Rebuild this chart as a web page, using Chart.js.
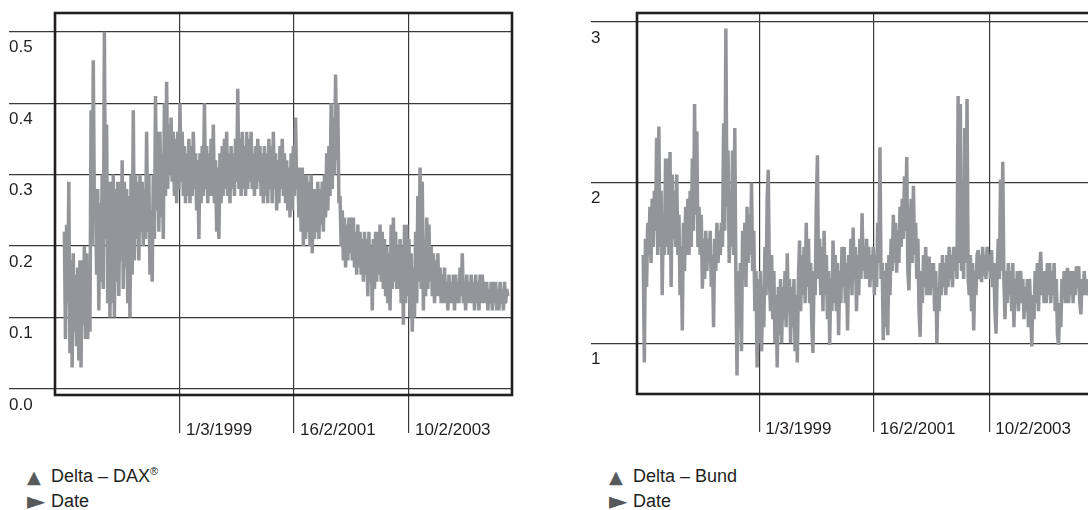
<!DOCTYPE html>
<html>
<head>
<meta charset="utf-8">
<script src="https://cdn.jsdelivr.net/npm/chart.js@4.4.0/dist/chart.umd.min.js"></script>
<style>
  html, body { margin: 0; padding: 0; background: #fff; overflow: hidden; width: 1088px; height: 510px; }
  canvas { position: absolute; top: 0; }
  .legend { position: absolute; top: 464px; font: 18px 'Liberation Sans', Arial, sans-serif; color: #231f20; line-height: 25px; white-space: nowrap; }
  .legend div { height: 25px; }
  .mk { display: inline-block; width: 24px; line-height: 25px; vertical-align: top; font-family: 'DejaVu Sans', sans-serif; color: #58595b; }
  .up { font-size: 18px; }
  .right { font-size: 24px; }
  .reg { font-size: 11px; position: relative; top: -7px; }
</style>
</head>
<body>
<canvas id="daxChart" width="540" height="460" style="left:0"></canvas>
<canvas id="bundChart" width="540" height="460" style="left:582px"></canvas>
<div class="legend" style="left:27px">
  <div><span class="mk up">▲</span>Delta – DAX<span class="reg">®</span></div>
  <div><span class="mk right">►</span>Date</div>
</div>
<div class="legend" style="left:609px">
  <div><span class="mk up">▲</span>Delta – Bund</div>
  <div><span class="mk right">►</span>Date</div>
</div>
<script>
// serie - jeden punkt co 7 dni
const seriesStart = '1997-03-03';
const stepDays = 7;

const deltaDax = [
  0.22, 0.07, 0.23, 0.12, 0.29, 0.05, 0.18, 0.03, 0.19, 0.08, 0.16, 0.06, 0.17, 0.04, 0.18, 0.03, 0.18, 0.09, 0.20, 0.07,
  0.19, 0.07, 0.17, 0.08, 0.39, 0.20, 0.46, 0.25, 0.27, 0.16, 0.28, 0.11, 0.26, 0.15, 0.30, 0.14, 0.50, 0.21, 0.37, 0.12,
  0.29, 0.10, 0.29, 0.12, 0.30, 0.10, 0.28, 0.15, 0.29, 0.13, 0.29, 0.18, 0.32, 0.14, 0.29, 0.17, 0.28, 0.12, 0.27, 0.10,
  0.30, 0.16, 0.39, 0.18, 0.30, 0.21, 0.29, 0.18, 0.30, 0.22, 0.29, 0.20, 0.28, 0.21, 0.36, 0.22, 0.30, 0.16, 0.25, 0.15,
  0.30, 0.21, 0.41, 0.25, 0.36, 0.22, 0.36, 0.24, 0.33, 0.21, 0.40, 0.27, 0.43, 0.28, 0.37, 0.30, 0.38, 0.29, 0.36, 0.27,
  0.35, 0.26, 0.36, 0.28, 0.40, 0.29, 0.36, 0.27, 0.34, 0.26, 0.33, 0.27, 0.35, 0.26, 0.34, 0.27, 0.36, 0.28, 0.33, 0.25,
  0.32, 0.21, 0.33, 0.26, 0.34, 0.27, 0.40, 0.28, 0.34, 0.26, 0.33, 0.27, 0.35, 0.27, 0.37, 0.26, 0.32, 0.22, 0.31, 0.21,
  0.33, 0.26, 0.34, 0.27, 0.35, 0.28, 0.36, 0.27, 0.33, 0.26, 0.34, 0.28, 0.33, 0.27, 0.35, 0.29, 0.42, 0.28, 0.35, 0.27,
  0.36, 0.28, 0.34, 0.27, 0.36, 0.28, 0.35, 0.29, 0.36, 0.28, 0.33, 0.27, 0.34, 0.28, 0.35, 0.29, 0.34, 0.27, 0.33, 0.26,
  0.34, 0.27, 0.33, 0.26, 0.35, 0.28, 0.34, 0.26, 0.36, 0.28, 0.33, 0.25, 0.32, 0.26, 0.34, 0.28, 0.35, 0.27, 0.33, 0.26,
  0.32, 0.25, 0.31, 0.24, 0.33, 0.25, 0.34, 0.27, 0.38, 0.28, 0.31, 0.24, 0.31, 0.22, 0.31, 0.20, 0.30, 0.21, 0.30, 0.22,
  0.29, 0.20, 0.30, 0.19, 0.28, 0.21, 0.28, 0.22, 0.29, 0.21, 0.28, 0.23, 0.29, 0.22, 0.30, 0.24, 0.33, 0.25, 0.34, 0.27,
  0.40, 0.28, 0.38, 0.30, 0.44, 0.32, 0.40, 0.26, 0.27, 0.20, 0.25, 0.18, 0.24, 0.17, 0.23, 0.18, 0.24, 0.19, 0.24, 0.18,
  0.24, 0.17, 0.22, 0.16, 0.23, 0.17, 0.22, 0.16, 0.21, 0.15, 0.22, 0.16, 0.21, 0.13, 0.22, 0.15, 0.20, 0.11, 0.21, 0.14,
  0.22, 0.15, 0.22, 0.16, 0.23, 0.15, 0.22, 0.14, 0.21, 0.13, 0.20, 0.12, 0.19, 0.11, 0.23, 0.14, 0.24, 0.15, 0.22, 0.14,
  0.20, 0.14, 0.21, 0.12, 0.20, 0.09, 0.23, 0.12, 0.23, 0.13, 0.21, 0.10, 0.19, 0.08, 0.17, 0.10, 0.22, 0.12, 0.27, 0.15,
  0.31, 0.14, 0.29, 0.11, 0.21, 0.13, 0.24, 0.14, 0.23, 0.15, 0.20, 0.13, 0.19, 0.12, 0.18, 0.13, 0.19, 0.13, 0.17, 0.12,
  0.16, 0.12, 0.17, 0.12, 0.15, 0.11, 0.16, 0.12, 0.15, 0.12, 0.16, 0.11, 0.16, 0.12, 0.15, 0.12, 0.17, 0.13, 0.19, 0.12,
  0.15, 0.11, 0.16, 0.12, 0.15, 0.12, 0.16, 0.12, 0.15, 0.11, 0.16, 0.12, 0.15, 0.11, 0.16, 0.12, 0.16, 0.12, 0.15, 0.12,
  0.15, 0.11, 0.14, 0.12, 0.15, 0.11, 0.15, 0.12, 0.15, 0.11, 0.14, 0.11, 0.15, 0.12, 0.14, 0.11, 0.15, 0.12, 0.14, 0.13
];

const deltaBund = [
  1.55, 0.88, 1.65, 1.35, 1.75, 1.55, 1.85, 1.50, 1.90, 1.60, 1.95, 1.70, 2.28, 1.55, 2.35, 1.60, 1.95, 1.30, 1.80, 1.55,
  2.15, 1.60, 2.15, 1.55, 2.19, 1.35, 2.05, 1.65, 1.95, 1.60, 2.05, 1.55, 1.80, 1.30, 1.60, 1.08, 1.75, 1.45, 1.85, 1.55,
  1.90, 1.55, 1.95, 1.60, 2.15, 1.70, 2.49, 1.80, 2.32, 1.60, 1.85, 1.55, 1.80, 1.34, 1.65, 1.40, 1.70, 1.45, 1.65, 1.50,
  1.70, 1.35, 1.55, 1.10, 1.65, 1.45, 1.75, 1.50, 1.70, 1.55, 1.75, 1.60, 2.37, 1.70, 2.96, 1.85, 2.20, 1.50, 1.85, 1.60,
  2.20, 1.55, 2.34, 1.40, 0.80, 1.45, 1.10, 1.50, 0.95, 1.70, 1.40, 1.75, 1.35, 1.85, 1.50, 1.80, 1.55, 2.00, 1.45, 1.70,
  1.20, 1.45, 0.85, 1.40, 1.00, 1.45, 0.95, 1.35, 1.10, 1.60, 1.30, 1.90, 2.08, 1.40, 1.20, 1.55, 1.15, 1.45, 1.00, 1.30,
  0.85, 1.35, 1.05, 1.40, 1.00, 1.35, 1.15, 1.45, 1.10, 1.56, 1.20, 1.40, 1.00, 1.35, 1.10, 1.40, 0.95, 1.30, 0.88, 1.40,
  1.64, 1.20, 1.55, 1.30, 1.60, 1.25, 1.75, 1.35, 1.65, 1.25, 1.50, 1.10, 0.94, 1.45, 1.30, 1.85, 2.17, 1.40, 1.65, 1.30,
  1.60, 1.20, 1.70, 1.30, 1.55, 1.15, 1.45, 0.99, 1.40, 1.20, 1.64, 1.25, 1.55, 1.20, 1.50, 1.05, 1.45, 1.25, 1.60, 1.35,
  1.60, 1.25, 1.50, 1.08, 1.55, 1.35, 1.65, 1.30, 1.72, 1.40, 1.60, 1.20, 1.55, 1.30, 1.65, 1.40, 1.81, 1.45, 1.60, 1.40,
  1.65, 1.40, 1.60, 1.35, 1.55, 1.40, 1.60, 1.30, 1.55, 1.35, 1.75, 1.50, 2.22, 1.40, 1.50, 1.02, 1.45, 1.10, 1.50, 1.05,
  1.55, 1.30, 1.65, 1.45, 1.80, 1.50, 1.75, 1.44, 1.70, 1.50, 1.85, 1.60, 1.90, 1.65, 2.04, 1.70, 2.16, 1.45, 1.33, 1.70,
  1.90, 1.50, 1.98, 1.55, 1.75, 1.40, 1.65, 1.20, 1.04, 1.45, 1.25, 1.55, 1.35, 1.60, 1.30, 1.50, 1.54, 1.30, 1.50, 1.35,
  1.50, 1.20, 1.45, 1.00, 1.35, 1.20, 1.50, 1.30, 1.55, 1.35, 1.50, 1.30, 1.55, 1.35, 1.60, 1.40, 1.55, 1.35, 1.60, 1.45,
  1.60, 1.40, 2.54, 1.50, 2.49, 1.45, 1.60, 1.40, 2.34, 1.50, 2.52, 1.40, 1.30, 1.55, 1.20, 1.50, 1.08, 1.45, 1.30, 1.55,
  1.58, 1.40, 1.55, 1.38, 1.60, 1.42, 1.55, 1.40, 1.60, 1.45, 1.55, 1.40, 1.58, 1.35, 1.50, 1.20, 1.06, 1.45, 1.65, 1.40,
  2.02, 1.45, 2.13, 1.40, 1.15, 1.45, 1.25, 1.50, 1.30, 1.45, 1.20, 1.50, 1.10, 1.40, 1.25, 1.45, 1.20, 1.40, 1.45, 1.25,
  1.40, 1.15, 1.35, 1.20, 1.40, 1.10, 1.40, 1.20, 0.98, 1.30, 1.15, 1.45, 1.25, 1.50, 1.20, 1.45, 1.57, 1.30, 1.45, 1.25,
  1.45, 1.25, 1.50, 1.30, 1.50, 1.25, 1.45, 1.30, 1.50, 1.20, 1.40, 1.05, 0.99, 1.25, 1.10, 1.40, 1.30, 1.45, 1.25, 1.40,
  1.47, 1.25, 1.45, 1.30, 1.45, 1.25, 1.45, 1.30, 1.48, 1.35, 1.48, 1.25, 1.18, 1.40, 1.30, 1.45, 1.30, 1.40, 1.30, 1.32
];

// osie
const dateTicks = ['1999-03-01', '2001-02-16', '2003-02-10'];
const dateTickLabels = ['1/3/1999', '16/2/2001', '10/2/2003'];
const daxTicks = [0, 0.1, 0.2, 0.3, 0.4, 0.5];
const daxTickLabels = ['0.0', '0.1', '0.2', '0.3', '0.4', '0.5'];
const bundTicks = [1, 2, 3];
const bundTickLabels = ['1', '2', '3'];

const lineColor = '#939598';
const gridColor = '#3a3a3a';
const textColor = '#231f20';
const tickFont = { family: "'Liberation Sans', Arial, sans-serif", size: 17 };

const dayOf = s => Date.parse(s) / 864e5;

// ramka wokol obszaru wykresu
const frame = {
  id: 'frame',
  afterDraw(chart) {
    const { ctx, chartArea: a } = chart;
    ctx.save();
    ctx.strokeStyle = '#231f20';
    ctx.lineWidth = 2.6;
    ctx.strokeRect(a.left, a.top, a.right - a.left, a.bottom - a.top);
    ctx.restore();
  }
};

function makeChart(id, values, yTicks, yLabels, yRange, xRange, axisHeight) {
  const start = dayOf(seriesStart);
  const points = values.map((v, i) => ({ x: start + i * stepDays, y: v }));
  const tickDays = dateTicks.map(dayOf);

  return new Chart(document.getElementById(id), {
    type: 'line',
    data: {
      datasets: [{
        data: points,
        borderColor: lineColor,
        borderWidth: 3.5,
        borderJoinStyle: 'bevel',
        pointRadius: 0,
        tension: 0,
      }]
    },
    options: {
      responsive: false,
      animation: false,
      layout: { padding: { left: 9, top: 13, right: 28, bottom: 0 } },
      plugins: { legend: { display: false }, tooltip: { enabled: false } },
      scales: {
        x: {
          type: 'linear',
          min: dayOf(xRange[0]),
          max: dayOf(xRange[1]),
          afterBuildTicks: s => { s.ticks = tickDays.map(v => ({ value: v })); },
          afterFit: s => { s.height = axisHeight; },
          border: { display: false },
          grid: { color: gridColor, lineWidth: 1.2, tickLength: 38 },
          ticks: {
            autoSkip: false,
            maxRotation: 0,
            align: 'start',
            labelOffset: 6,
            padding: -13,
            color: textColor,
            font: tickFont,
            callback: (v, i) => dateTickLabels[i],
          }
        },
        y: {
          min: yRange[0],
          max: yRange[1],
          afterBuildTicks: s => { s.ticks = yTicks.map(v => ({ value: v })); },
          afterFit: s => { s.width = 46; },
          border: { display: false },
          grid: { color: gridColor, lineWidth: 1.2, tickLength: 46 },
          ticks: {
            crossAlign: 'far',
            labelOffset: 16,
            padding: 0,
            color: textColor,
            font: tickFont,
            callback: (v, i) => yLabels[i],
          }
        }
      }
    },
    plugins: [frame]
  });
}

const daxChart = makeChart('daxChart', deltaDax, daxTicks, daxTickLabels,
  [-0.0084, 0.5262], ['1997-01-03', '2004-11-20'], 65);
const bundChart = makeChart('bundChart', deltaBund, bundTicks, bundTickLabels,
  [0.6845, 3.056], ['1997-01-23', '2004-11-27'], 66);
</script>
</body>
</html>
